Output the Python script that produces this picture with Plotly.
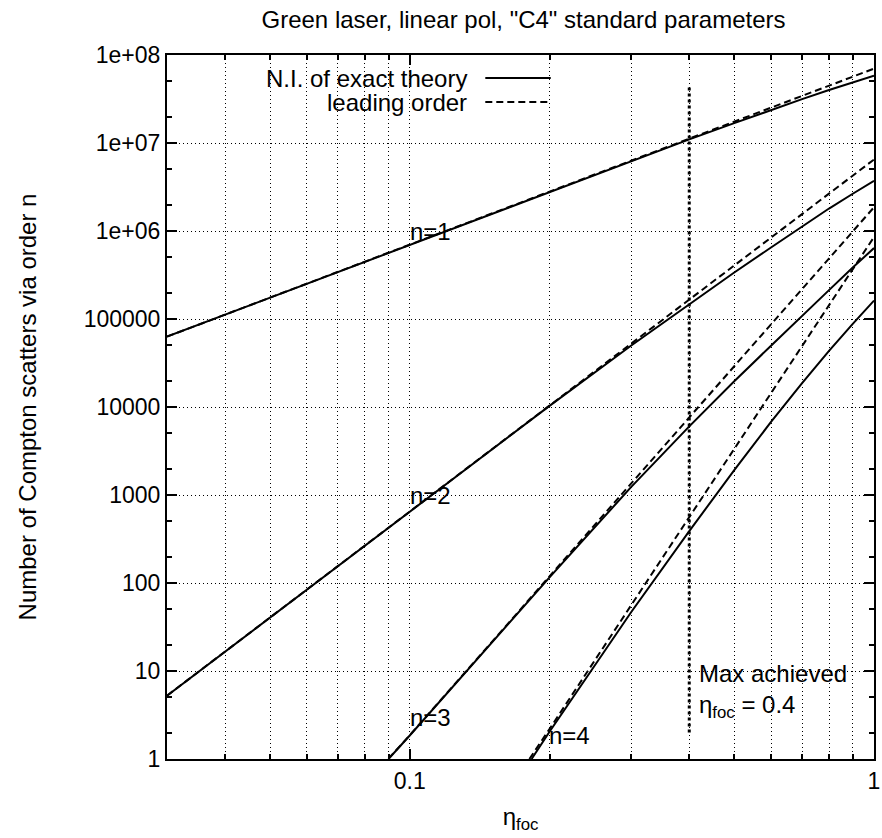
import plotly.graph_objects as go

# ---------------- data ----------------
eta = [0.03, 0.05, 0.1, 0.2, 0.3, 0.4, 0.5, 0.6, 0.7, 0.8, 0.9, 1.0]

n1_exact = [6.3e4, 1.75e5, 7.0e5, 2.8e6, 6.3e6, 1.10e7, 1.68e7, 2.38e7, 3.15e7, 4.0e7, 4.9e7, 5.8e7]
n1_lead  = [6.3e4, 1.75e5, 7.0e5, 2.8e6, 6.3e6, 1.12e7, 1.75e7, 2.52e7, 3.43e7, 4.49e7, 5.68e7, 7.0e7]

n2_exact = [5.25, 40.5, 648, 1.03e4, 5.0e4, 1.48e5, 3.38e5, 6.5e5, 1.13e6, 1.80e6, 2.65e6, 3.72e6]
n2_lead  = [5.25, 40.5, 649, 1.04e4, 5.26e4, 1.66e5, 4.06e5, 8.41e5, 1.56e6, 2.65e6, 4.26e6, 6.49e6]

eta3 = [0.09, 0.1, 0.2, 0.3, 0.4, 0.5, 0.6, 0.7, 0.8, 0.9, 1.0]
n3_exact = [1.0, 1.85, 116, 1236, 6030, 1.96e4, 4.97e4, 1.10e5, 2.13e5, 3.84e5, 6.4e5]
n3_lead  = [1.01, 1.86, 119, 1355, 7600, 2.9e4, 8.67e4, 2.19e5, 4.88e5, 9.87e5, 1.86e6]

eta4_exact = [0.183, 0.2, 0.3, 0.4, 0.5, 0.6, 0.7, 0.8, 0.9, 1.0]
n4_exact = [1.0, 2.04, 46.8, 389, 1920, 6760, 1.87e4, 4.35e4, 8.8e4, 1.62e5]
eta4_lead = [0.181, 0.2, 0.3, 0.4, 0.5, 0.6, 0.7, 0.8, 0.9, 1.0]
n4_lead  = [1.0, 2.19, 56.1, 561, 3340, 1.44e4, 4.93e4, 1.44e5, 3.68e5, 8.55e5]

max_eta = [0.4, 0.4]
max_y = [2, 4.5e7]

x_major = [0.1, 1]
x_major_text = ["0.1", "1"]
x_minor = [0.04, 0.05, 0.06, 0.07, 0.08, 0.09, 0.2, 0.3, 0.4, 0.5, 0.6, 0.7, 0.8, 0.9]
y_major = [1, 10, 100, 1000, 10000, 100000, 1e6, 1e7, 1e8]
y_major_text = ["1", "10", "100", "1000", "10000", "100000", "1e+06", "1e+07", "1e+08"]
y_minor = [m * 10 ** k for k in range(0, 8) for m in (2, 5)]

FONT = "Liberation Sans, Arial, Helvetica, sans-serif"
FS_TICK = 23
FS = 24

fig = go.Figure()
solid = dict(color="black", width=2)
dashed = dict(color="black", width=2, dash="7px,4px")

fig.add_trace(go.Scatter(x=eta, y=n1_exact, mode="lines", line=solid))
fig.add_trace(go.Scatter(x=eta, y=n1_lead, mode="lines", line=dashed))
fig.add_trace(go.Scatter(x=eta, y=n2_exact, mode="lines", line=solid))
fig.add_trace(go.Scatter(x=eta, y=n2_lead, mode="lines", line=dashed))
fig.add_trace(go.Scatter(x=eta3, y=n3_exact, mode="lines", line=solid))
fig.add_trace(go.Scatter(x=eta3, y=n3_lead, mode="lines", line=dashed))
fig.add_trace(go.Scatter(x=eta4_exact, y=n4_exact, mode="lines", line=solid))
fig.add_trace(go.Scatter(x=eta4_lead, y=n4_lead, mode="lines", line=dashed))
fig.add_trace(go.Scatter(x=max_eta, y=max_y, mode="lines",
                         line=dict(color="black", width=3, dash="3px,3px")))

grid = dict(showgrid=True, gridcolor="black", gridwidth=1, griddash="1px,3px")

fig.update_xaxes(
    type="log", range=[-1.5229, 0], showline=True, linecolor="black", linewidth=2,
    mirror="allticks", ticks="inside", ticklen=10, tickwidth=1.5, tickcolor="black",
    tickmode="array", tickvals=x_major, ticktext=x_major_text, zeroline=False,
    tickfont=dict(family=FONT, size=FS_TICK, color="black"), ticklabeloverflow="allow",
    minor=dict(tickmode="array", tickvals=x_minor, ticks="inside", ticklen=5,
               tickwidth=1.5, tickcolor="black", **grid),
    title=dict(text="η<sub>foc</sub>", font=dict(family=FONT, size=FS, color="black"), standoff=16),
    **grid,
)
fig.update_yaxes(
    type="log", range=[0, 8], showline=True, linecolor="black", linewidth=2,
    mirror="allticks", ticks="inside", ticklen=10, tickwidth=1.5, tickcolor="black",
    tickmode="array", tickvals=y_major, ticktext=y_major_text, zeroline=False,
    tickfont=dict(family=FONT, size=FS_TICK, color="black"),
    minor=dict(tickmode="array", tickvals=y_minor, ticks="inside", ticklen=5,
               tickwidth=1.5, tickcolor="black", showgrid=False),
    title=dict(text="Number of Compton scatters via order n",
               font=dict(family=FONT, size=FS, color="black"), standoff=40),
    **grid,
)

L, R, T, B = 167, 2, 55, 79
W, H = 882, 838
pw, ph = W - L - R, H - T - B

def px(x):
    return (x - L) / pw

def py(y):
    return (H - B - y) / ph

annots = [
    dict(x=-1, y=6, text="n=1"),
    dict(x=-1, y=3, text="n=2"),
    dict(x=-1, y=0.47, text="n=3"),
    dict(x=-0.699, y=0.27, text="n=4"),
    dict(x=-0.378, y=0.77, text="Max achieved<br>η<sub>foc</sub> = 0.4"),
]
for a in annots:
    fig.add_annotation(xref="x", yref="y", xanchor="left", yanchor="middle", align="left",
                       showarrow=False, font=dict(family=FONT, size=FS, color="black"),
                       xshift=-2, **a)

# legend (text right-justified, sample to the right, gnuplot style)
leg = [("N.I. of exact theory", 78, None), ("leading order", 102, "7px,4px")]
for text, yy, dash in leg:
    fig.add_annotation(xref="paper", yref="paper", x=px(472), y=py(yy), text=text,
                       xanchor="right", yanchor="middle", showarrow=False,
                       font=dict(family=FONT, size=FS, color="black"))
    fig.add_shape(type="line", xref="paper", yref="paper", x0=px(488), x1=px(554),
                  y0=py(yy), y1=py(yy),
                  line=dict(color="black", width=2, dash=dash or "solid"))

fig.update_layout(
    width=W, height=H, margin=dict(l=L, r=R, t=T, b=B),
    paper_bgcolor="white", plot_bgcolor="white", showlegend=False,
    title=dict(text='Green laser, linear pol, "C4" standard parameters',
               x=(L + pw / 2) / W, xanchor="center", y=1 - 20 / H, yanchor="middle",
               font=dict(family=FONT, size=FS, color="black")),
)

fig.write_html("out.html")
